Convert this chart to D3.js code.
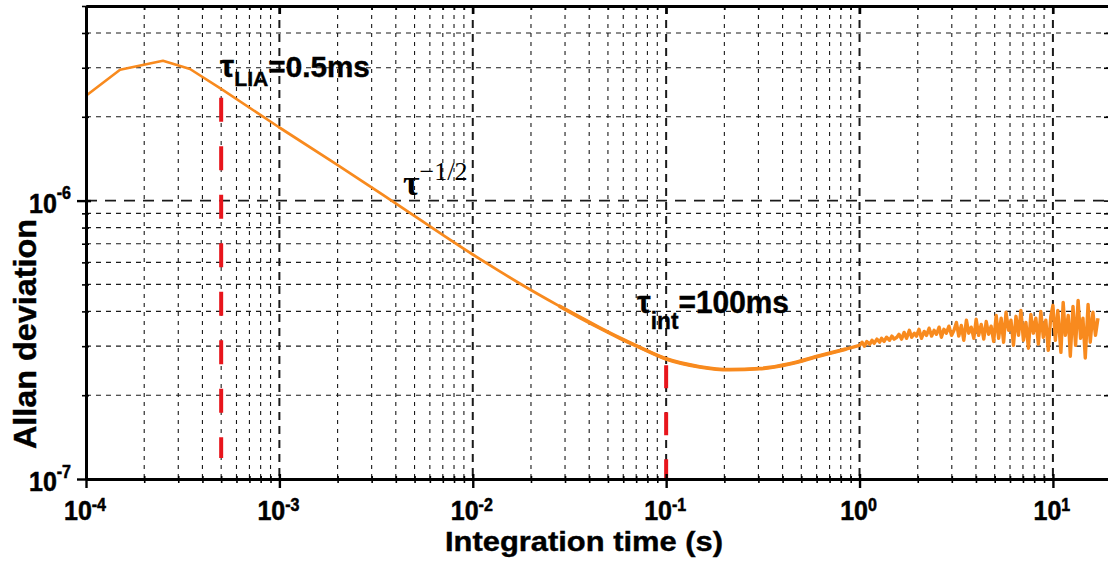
<!DOCTYPE html>
<html>
<head>
<meta charset="utf-8">
<script src="https://cdn.jsdelivr.net/npm/d3@7"></script>
<style>
  body { margin: 0; background: #fff; }
  svg { display: block; font-family: "Liberation Sans", Arial, sans-serif; }
</style>
</head>
<body>
<div id="chart"></div>
<script>
// smooth part of the Allan deviation curve (tau in s)
const smoothTau = [1e-4, 1.5e-4, 2.5e-4, 3.45e-4, 5e-4, 1e-3, 1.94e-3, 3.8e-3, 1e-2, 1.38e-2, 1.75e-2,
  2.82e-2, 3.57e-2, 4.53e-2, 5.75e-2, 7.3e-2, 0.1, 0.149, 0.213, 0.304, 0.435, 0.62, 0.84];
const smoothAdev = [2.38e-6, 2.95e-6, 3.18e-6, 2.97e-6, 2.52e-6, 1.83e-6, 1.36e-6, 1.0e-6, 6.4e-7, 5.57e-7, 5.04e-7,
  4.17e-7, 3.81e-7, 3.49e-7, 3.21e-7, 2.97e-7, 2.70e-7, 2.53e-7, 2.47e-7, 2.49e-7, 2.59e-7, 2.77e-7, 2.92e-7];

// noisy tail (tau in s, adev in units of 1e-7)
const noisyTau = [1.00, 1.03, 1.06, 1.09, 1.13, 1.16, 1.19, 1.23, 1.27, 1.30,
  1.34, 1.38, 1.43, 1.47, 1.51, 1.56, 1.60, 1.65, 1.70, 1.75,
  1.81, 1.86, 1.92, 1.97, 2.03, 2.09, 2.16, 2.22, 2.29, 2.36,
  2.43, 2.50, 2.58, 2.65, 2.73, 2.81, 2.90, 2.99, 3.08, 3.17,
  3.26, 3.36, 3.46, 3.57, 3.67, 3.78, 3.90, 4.01, 4.13, 4.26,
  4.39, 4.52, 4.65, 4.79, 4.94, 5.09, 5.24, 5.40, 5.56, 5.72,
  5.90, 6.07, 6.25, 6.44, 6.64, 6.83, 7.04, 7.25, 7.47, 7.69,
  7.92, 8.16, 8.41, 8.66, 8.92, 9.19, 9.46, 9.75, 10.0, 10.3,
  10.6, 11.0, 11.3, 11.6, 12.0, 12.3, 12.7, 13.1, 13.5, 13.9,
  14.3, 14.7, 15.2, 15.6, 16.1, 16.6, 17.1];
const noisyAdev = [3.02, 3.10, 3.00, 3.12, 3.05, 3.15, 3.07, 3.18, 3.10, 3.20,
  3.12, 3.23, 3.15, 3.26, 3.18, 3.23, 3.31, 3.18, 3.36, 3.20,
  3.42, 3.23, 3.34, 3.26, 3.45, 3.20, 3.39, 3.28, 3.48, 3.26,
  3.42, 3.31, 3.51, 3.23, 3.45, 3.34, 3.54, 3.28, 3.42, 3.65,
  3.26, 3.56, 3.15, 3.72, 3.34, 3.51, 3.20, 3.75, 3.28, 3.59,
  3.18, 3.68, 3.31, 3.54, 3.12, 3.87, 3.20, 3.78, 3.10, 3.97,
  3.42, 3.72, 3.02, 3.84, 3.28, 4.03, 3.15, 3.65, 2.95, 3.90,
  3.34, 3.78, 3.05, 4.00, 3.23, 3.72, 2.90, 3.84, 4.20, 3.15,
  4.03, 2.85, 4.31, 3.28, 3.87, 2.76, 4.17, 3.02, 4.38, 3.20,
  3.78, 2.72, 4.24, 3.10, 3.97, 3.28, 3.78];

const xDecades = [1e-4, 1e-3, 1e-2, 1e-1, 1, 10];
const xDecadeExp = ['-4', '-3', '-2', '-1', '0', '1'];
const yDecades = [1e-7, 1e-6];
const yDecadeExp = ['-7', '-6'];

// red marker lines: tau, top, bottom
const markerTau = [5e-4, 0.1];
const markerTop = [2.34e-6, 2.56e-7];
const markerBottom = [1.19e-7, 1e-7];

const W = 1108, H = 562;
const svg = d3.select('#chart').append('svg').attr('width', W).attr('height', H);

const x = d3.scaleLog().domain([1e-4, 19.5]).range([86, 1109]);
const y = d3.scaleLog().domain([1e-7, 5e-6]).range([479, 6]);
const [xL, xR] = x.range();
const [yB, yT] = y.range();

const isDecade = (arr, t) => arr.some(d => Math.abs(d - t) / d < 1e-6);
const xMinor = x.ticks().filter(t => !isDecade(xDecades, t));
const yMinor = y.ticks().filter(t => !isDecade(yDecades, t));

// grid
const grid = svg.append('g').attr('stroke', '#1a1a1a').attr('fill', 'none');
grid.selectAll('line.vmin').data(xMinor).join('line')
  .attr('x1', d => x(d)).attr('x2', d => x(d)).attr('y1', yT).attr('y2', yB)
  .attr('stroke-width', 1.1).attr('stroke-dasharray', '4,5');
grid.selectAll('line.vmaj').data(xDecades.filter(d => d > 1e-4)).join('line')
  .attr('x1', d => x(d)).attr('x2', d => x(d)).attr('y1', yT).attr('y2', yB)
  .attr('stroke-width', 2).attr('stroke-dasharray', '8,6');
grid.selectAll('line.hmin').data(yMinor.filter(d => d < 4.9e-6)).join('line')
  .attr('y1', d => y(d)).attr('y2', d => y(d)).attr('x1', xL).attr('x2', xR)
  .attr('stroke-width', 1.1).attr('stroke-dasharray', '5,5');
grid.selectAll('line.hmaj').data(yDecades.filter(d => d > 1e-7)).join('line')
  .attr('y1', d => y(d)).attr('y2', d => y(d)).attr('x1', xL).attr('x2', xR)
  .attr('stroke-width', 1.8).attr('stroke-dasharray', '11,8');

// curve
const smoothPts = smoothTau.map((t, i) => [t, smoothAdev[i]]);
const noisyPts = noisyTau.map((t, i) => [t, noisyAdev[i] * 1e-7]);
const allPts = smoothPts.concat(noisyPts);
const lineLin = d3.line().x(d => x(d[0])).y(d => y(d[1]));
const lineSmooth = d3.line().x(d => x(d[0])).y(d => y(d[1])).curve(d3.curveMonotoneX);
const orange = '#F88A1E';
svg.append('path').datum(allPts.filter(d => d[0] <= 1e-3))
  .attr('d', lineLin).attr('fill', 'none').attr('stroke', orange)
  .attr('stroke-width', 2.6).attr('stroke-linejoin', 'round');
svg.append('path').datum(allPts.filter(d => d[0] >= 1e-3 && d[0] <= 0.9))
  .attr('d', lineSmooth).attr('fill', 'none').attr('stroke', orange)
  .attr('stroke-width', 2.8).attr('stroke-linecap', 'round');
svg.append('path').datum(allPts.filter(d => d[0] >= 2.8e-2 && d[0] <= 0.9))
  .attr('d', lineSmooth).attr('fill', 'none').attr('stroke', orange)
  .attr('stroke-width', 3.8).attr('stroke-linecap', 'round');
svg.append('path').datum(allPts.filter(d => d[0] >= 0.8))
  .attr('d', lineLin).attr('fill', 'none').attr('stroke', orange)
  .attr('stroke-width', 3.4).attr('stroke-linejoin', 'round');

// red dashed markers
svg.append('g').selectAll('line').data(markerTau).join('line')
  .attr('x1', d => x(d)).attr('x2', d => x(d))
  .attr('y1', (d, i) => y(markerTop[i])).attr('y2', (d, i) => y(markerBottom[i]))
  .attr('stroke', '#E8151C').attr('stroke-width', 4)
  .attr('stroke-dasharray', (d, i) => i === 0 ? '24,24.5' : '23,24');

// axes
const axisStyle = g => {
  g.select('.domain').attr('stroke', '#000').attr('stroke-width', 3);
  g.selectAll('.tick line').attr('stroke', '#000').attr('stroke-width', 1.6);
  g.selectAll('.tick text').remove();
};
svg.append('g').attr('transform', `translate(0,${yB})`)
  .call(d3.axisBottom(x).tickValues(xMinor).tickSizeInner(4).tickSizeOuter(0)).call(axisStyle)
  .call(g => g.selectAll('.tick line').attr('y1', -3));
svg.append('g').attr('transform', `translate(0,${yB})`)
  .call(d3.axisBottom(x).tickValues(xDecades).tickSizeInner(9).tickSizeOuter(0)).call(axisStyle)
  .call(g => g.selectAll('.tick line').attr('y1', -5).attr('stroke-width', 2.4));
svg.append('g').attr('transform', `translate(0,${yT})`)
  .call(d3.axisTop(x).tickValues(xMinor).tickSizeInner(-4).tickSizeOuter(0)).call(axisStyle);
svg.append('g').attr('transform', `translate(0,${yT})`)
  .call(d3.axisTop(x).tickValues(xDecades).tickSizeInner(-8).tickSizeOuter(0)).call(axisStyle)
  .call(g => g.selectAll('.tick line').attr('stroke-width', 2.4));
svg.append('g').attr('transform', `translate(${xL},0)`)
  .call(d3.axisLeft(y).tickValues(yMinor).tickSizeInner(4).tickSizeOuter(0)).call(axisStyle)
  .call(g => g.selectAll('.tick line').attr('x1', 3));
svg.append('g').attr('transform', `translate(${xL},0)`)
  .call(d3.axisLeft(y).tickValues(yDecades).tickSizeInner(9).tickSizeOuter(0)).call(axisStyle)
  .call(g => g.selectAll('.tick line').attr('x1', 5).attr('stroke-width', 2.4));
svg.append('g').attr('transform', `translate(${xR},0)`)
  .call(d3.axisRight(y).tickValues(y.ticks()).tickSizeInner(-5).tickSizeOuter(0)).call(axisStyle);

// tick labels
const labels = svg.append('g').attr('font-weight', 'bold').attr('fill', '#000')
  .attr('stroke', '#000').attr('stroke-width', 0.5);
xDecades.forEach((d, i) => {
  const t = labels.append('text').attr('transform', `translate(${x(d) - 1},520) scale(1,1.1)`)
    .attr('text-anchor', 'middle');
  t.append('tspan').attr('font-size', 25).text('10');
  t.append('tspan').attr('font-size', 16).attr('dy', -8).text(xDecadeExp[i]);
});
yDecades.forEach((d, i) => {
  const t = labels.append('text').attr('transform', `translate(71,${y(d) + 12}) scale(1,1.1)`)
    .attr('text-anchor', 'end');
  t.append('tspan').attr('font-size', 25).text('10');
  t.append('tspan').attr('font-size', 16).attr('dy', -12).text(yDecadeExp[i]);
});

// axis titles
svg.append('text').attr('x', 584).attr('y', 551).attr('text-anchor', 'middle')
  .attr('font-size', 27).attr('font-weight', 'bold').attr('stroke', '#000').attr('stroke-width', 0.4)
  .attr('textLength', 278).attr('lengthAdjust', 'spacingAndGlyphs')
  .text('Integration time (s)');
svg.append('text').attr('transform', 'translate(36,334) rotate(-90)').attr('text-anchor', 'middle')
  .attr('font-size', 32).attr('font-weight', 'bold').attr('stroke', '#000').attr('stroke-width', 0.4)
  .attr('textLength', 230).attr('lengthAdjust', 'spacingAndGlyphs')
  .text('Allan deviation');

// annotations
const ann = svg.append('g').attr('font-weight', 'bold').attr('stroke', '#000').attr('stroke-width', 0.4);
const a1 = ann.append('text').attr('transform', 'translate(220,77) scale(1.06,1.05)');
a1.append('tspan').attr('font-size', 30).text('τ');
a1.append('tspan').attr('font-size', 20).attr('dy', 9).text('LIA');
a1.append('tspan').attr('font-size', 28).attr('dy', -9).text('=0.5ms');

const a2 = ann.append('text').attr('transform', 'translate(637,313) scale(1.03,1.05)');
a2.append('tspan').attr('font-size', 30).text('τ');
a2.append('tspan').attr('font-size', 22).attr('dy', 15).text('int');
a2.append('tspan').attr('font-size', 29).attr('dy', -15).text('=100ms');

const a3 = svg.append('text').attr('x', 403).attr('y', 195).attr('font-family', '"Liberation Serif", "Times New Roman", serif');
a3.append('tspan').attr('font-size', 36).attr('font-weight', 'bold').text('τ');
a3.append('tspan').attr('font-size', 26).attr('dy', -15).text('−1/2');
</script>
</body>
</html>
